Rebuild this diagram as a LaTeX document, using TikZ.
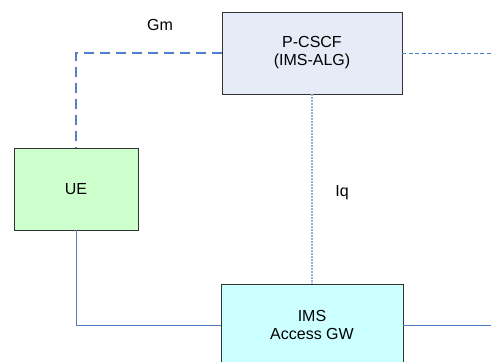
\documentclass[tikz,border=0pt]{standalone}
\usepackage{fontspec}
\setmainfont{Liberation Sans}
\definecolor{cscffill}{HTML}{E6ECF7}
\definecolor{uefill}{HTML}{CCFFCC}
\definecolor{gwfill}{HTML}{CCFFFF}
\definecolor{linkblue}{HTML}{4F7FC7}
\definecolor{iqblue}{HTML}{95B3D7}
\begin{document}
\begin{tikzpicture}[x=1pt,y=-1pt,
					auto,
					main node/.style={rectangle,draw=black!80,line width=0.9pt,
						minimum height=82pt,inner sep=0pt,align=center,
						font=\fontsize{16}{18}\selectfont},
					gm link/.style={draw=linkblue,line width=1.3pt,dash pattern=on 10pt off 6pt},
					ext link/.style={draw=linkblue,line width=0.8pt,dash pattern=on 4pt off 2.5pt},
					iq link/.style={draw=iqblue,line width=1.5pt,dash pattern=on 2pt off 1pt},
					bearer/.style={draw=linkblue,line width=0.9pt},
					label text/.style={font=\fontsize{16}{18}\selectfont}]

  \useasboundingbox (0,0) rectangle (491,362);

  \node[main node,fill=cscffill,minimum width=180pt] (P) at (312,53) {P-CSCF\\(IMS-ALG)};
  \node[main node,fill=uefill,minimum width=124pt] (U) at (76,189) {UE};
  \node[main node,fill=gwfill,minimum width=182pt] (G) at (312,325) {IMS\\Access GW};

  \coordinate (Pout) at (491,53);
  \coordinate (Gout) at (491,325);

  % interfaces
  \draw[gm link] (P.west) -| (U.north);
  \draw[ext link] (P.east) -- (Pout);
  \draw[iq link] (P.south) -- (G.north);
  \draw[bearer] (U.south) |- (G.west);
  \draw[bearer] (G.east) -- (Gout);

  \node[label text] (Gm) at (160,25) {Gm};
  \node[label text] (Iq) at (342,193) {Iq};
\end{tikzpicture}
\end{document}
